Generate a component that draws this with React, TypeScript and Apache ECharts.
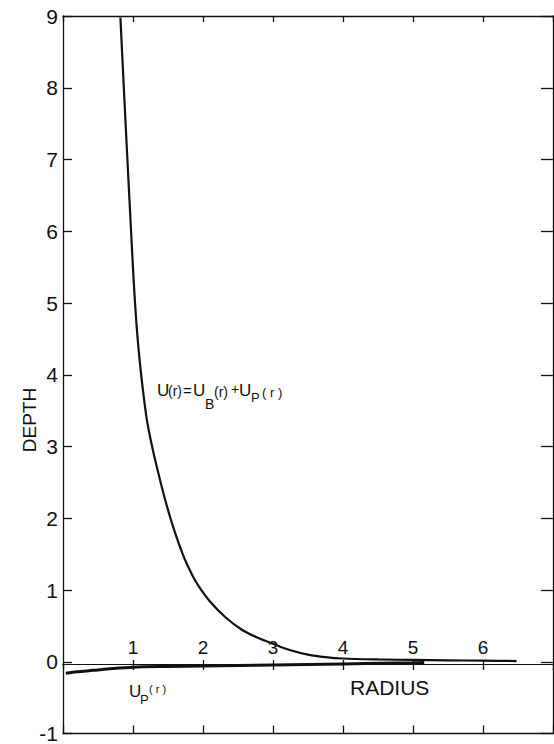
import React, { useEffect, useRef } from 'react';
import * as echarts from 'echarts';

// ---- data ----
const xMin = 0;
const xMax = 7;
const yMin = -1;
const yMax = 9;

// U(r) = U_B(r) + U_P(r)
const uR = [0.82, 0.87, 0.92, 0.97, 1.01, 1.05, 1.09, 1.14, 1.2, 1.26, 1.31, 1.39, 1.47, 1.57, 1.71, 1.84, 1.94, 2.1, 2.32, 2.55, 2.79, 3.0, 3.25, 3.5, 3.75, 4.0, 4.5, 5.0, 5.5, 6.0, 6.48];
const uDepth = [8.98, 7.98, 7.0, 6.05, 5.3, 4.7, 4.25, 3.8, 3.36, 3.06, 2.84, 2.52, 2.22, 1.89, 1.5, 1.22, 1.05, 0.84, 0.62, 0.45, 0.33, 0.25, 0.16, 0.1, 0.065, 0.045, 0.032, 0.025, 0.02, 0.015, 0.01];

// U_P(r)
const pR = [0.04, 0.2, 0.43, 0.7, 1.0, 1.5, 2.0, 3.0, 4.0, 5.0, 5.16];
const pDepth = [-0.16, -0.14, -0.12, -0.095, -0.075, -0.066, -0.06, -0.045, -0.03, -0.015, -0.012];

const INK = '#111';
const FONT = 'Liberation Sans';

export default function App() {
  const ref = useRef<HTMLDivElement>(null);

  useEffect(() => {
    document.body.style.margin = '0';
    const chart = echarts.init(ref.current as HTMLDivElement, null, { renderer: 'svg' });

    const frameLine = { onZero: false, lineStyle: { color: INK, width: 1.3 } };
    const mainRect = { left: 63, right: 1, top: 16, bottom: 8 };
    // upper band ends on the zero line (y = 0 of the main grid), lower band starts there
    const upperRect = { left: 63, right: 1, top: 16, bottom: 80 };
    const lowerRect = { left: 63, right: 1, top: 664, bottom: 8 };

    const txt = (text: string, x: number, y: number, size: number, extra: any = {}) => ({
      type: 'text',
      x,
      y,
      style: {
        text,
        fontSize: size,
        fontFamily: FONT,
        fill: INK,
        align: 'left',
        verticalAlign: 'middle',
      },
      ...extra,
    });

    const hiddenY = (gridIndex: number) => ({
      gridIndex, type: 'value', min: 0, max: 1, show: false, axisLine: { onZero: false },
    });

    const option: any = {
      animation: false,
      backgroundColor: '#fff',
      grid: [mainRect, upperRect, lowerRect],
      xAxis: [
        {
          gridIndex: 0, type: 'value', min: xMin, max: xMax, interval: 1, position: 'bottom',
          axisLine: frameLine,
          axisTick: { inside: true, length: 8, lineStyle: { color: INK, width: 1.3 } },
          axisLabel: { show: false }, splitLine: { show: false },
        },
        {
          gridIndex: 0, type: 'value', min: xMin, max: xMax, interval: 1, position: 'top',
          axisLine: frameLine,
          axisTick: { inside: true, length: 6, lineStyle: { color: INK, width: 1.3 } },
          axisLabel: { show: false }, splitLine: { show: false },
        },
        {
          gridIndex: 1, type: 'value', min: xMin, max: xMax, interval: 1, position: 'bottom',
          axisLine: { onZero: false, lineStyle: { color: INK, width: 1 } },
          axisTick: { inside: true, length: 4, lineStyle: { color: INK, width: 1.3 } },
          axisLabel: {
            show: true, inside: true, margin: 7, fontSize: 19, fontFamily: FONT, color: INK,
            showMinLabel: false, showMaxLabel: false,
          },
          splitLine: { show: false },
        },
        {
          gridIndex: 2, type: 'value', min: xMin, max: xMax, interval: 1, position: 'top',
          axisLine: { onZero: false, lineStyle: { color: INK, width: 1 } },
          axisTick: { inside: true, length: 6, lineStyle: { color: INK, width: 1.3 } },
          axisLabel: { show: false }, splitLine: { show: false },
        },
      ],
      yAxis: [
        {
          gridIndex: 0, type: 'value', min: yMin, max: yMax, interval: 1, position: 'left',
          axisLine: frameLine,
          axisTick: { inside: true, length: 9, lineStyle: { color: INK, width: 1.3 } },
          axisLabel: { margin: 5, fontSize: 21, fontFamily: FONT, color: INK },
          splitLine: { show: false },
        },
        {
          gridIndex: 0, type: 'value', min: yMin, max: yMax, interval: 1, position: 'right',
          axisLine: frameLine,
          axisTick: { inside: true, length: 12, lineStyle: { color: INK, width: 1.3 } },
          axisLabel: { show: false }, splitLine: { show: false },
        },
        hiddenY(1),
        hiddenY(2),
      ],
      series: [
        {
          name: 'U(r)', type: 'line', xAxisIndex: 0, yAxisIndex: 0,
          data: uR.map((r, i) => [r, uDepth[i]]),
          symbol: 'none', smooth: 0.3,
          lineStyle: { color: INK, width: 2.2 },
        },
        {
          name: 'Up(r)', type: 'line', xAxisIndex: 0, yAxisIndex: 0,
          data: pR.map((r, i) => [r, pDepth[i]]),
          symbol: 'none', smooth: 0.3,
          lineStyle: { color: INK, width: 3 },
        },
      ],
      graphic: [
        txt('DEPTH', 29, 420, 19, { rotation: Math.PI / 2, style: { text: 'DEPTH', fontSize: 19, fontFamily: FONT, fill: INK, align: 'center', verticalAlign: 'middle' } }),
        txt('RADIUS', 350, 687, 21),
        // U_P(r) label
        txt('U', 129, 691, 17),
        txt('P', 140, 699, 13),
        txt('( r )', 149, 689, 11),
        // formula label
        txt('U', 157, 390, 17),
        txt('(r)', 168, 391, 14),
        txt('=', 183, 390, 15),
        txt('U', 193, 390, 17),
        txt('B', 205, 404, 14),
        txt('(r)', 214, 392, 14),
        txt('+', 231, 389, 14),
        txt('U', 239, 390, 17),
        txt('P', 251, 397, 13),
        txt('( r )', 262, 392, 13),
      ],
    };

    chart.setOption(option);
    return () => chart.dispose();
  }, []);

  return (
    <div
      ref={ref}
      style={{ position: 'absolute', left: 0, top: 0, width: 554, height: 744, background: '#fff' }}
    />
  );
}
